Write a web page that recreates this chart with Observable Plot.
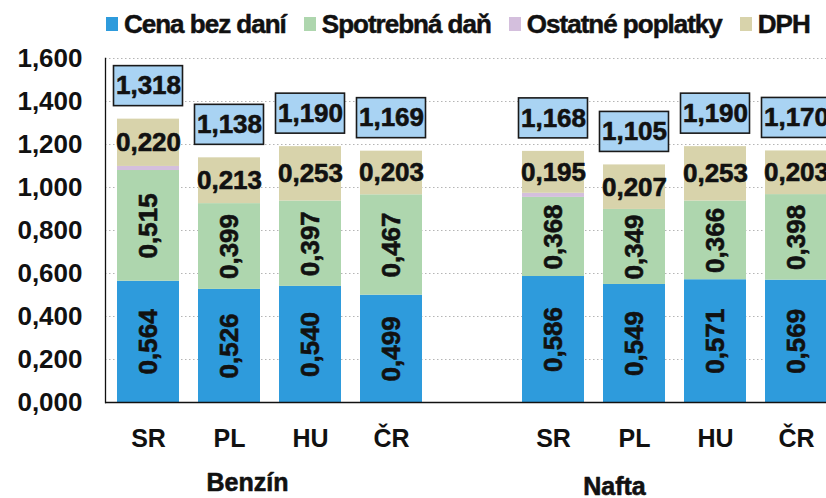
<!DOCTYPE html>
<html>
<head>
<meta charset="utf-8">
<script src="https://cdn.jsdelivr.net/npm/d3@7"></script>
<script src="https://cdn.jsdelivr.net/npm/@observablehq/plot@0.6"></script>
<style>
  html, body { margin: 0; padding: 0; background: #fff; overflow: hidden; }
  #wrap { width: 826px; height: 498px; overflow: hidden; position: relative; }
  #legend {
    height: 44px; display: flex; align-items: center; padding-left: 106px; box-sizing: border-box;
    font-family: "Liberation Sans", Arial, sans-serif;
    font-weight: bold; font-size: 26px; letter-spacing: -1px; color: #111; padding-top: 4px; white-space: nowrap;
    -webkit-text-stroke: 0.5px #111;
  }
  #legend .item { display: flex; align-items: center; margin-right: 18px; }
  #legend .sw { width: 12px; height: 14px; margin-right: 6px; display: inline-block; }
  #chart svg { display: block; overflow: visible; max-width: none !important; }
</style>
</head>
<body>
<div id="wrap">
  <div id="legend"></div>
  <div id="chart"></div>
</div>
<script>
// ---- data ----
const fuels = ["Benzín", "Nafta"];
const countries = ["SR", "PL", "HU", "ČR"];
const components = ["Cena bez daní", "Spotrebná daň", "Ostatné poplatky", "DPH"];
const colors = ["#2e9bdc", "#aed6ae", "#d4bfdd", "#d8d3ab"];

const benzinCena     = [0.564, 0.526, 0.540, 0.499];
const benzinSpotreb  = [0.515, 0.399, 0.397, 0.467];
const benzinOstatne  = [0.019, 0.000, 0.000, 0.000];
const benzinDPH      = [0.220, 0.213, 0.253, 0.203];
const benzinTotal    = [1.318, 1.138, 1.190, 1.169];

const naftaCena      = [0.586, 0.549, 0.571, 0.569];
const naftaSpotreb   = [0.368, 0.349, 0.366, 0.398];
const naftaOstatne   = [0.019, 0.000, 0.000, 0.000];
const naftaDPH       = [0.195, 0.207, 0.253, 0.203];
const naftaTotal     = [1.168, 1.105, 1.190, 1.170];

const yTicks = [0, 0.2, 0.4, 0.6, 0.8, 1.0, 1.2, 1.4, 1.6];

// ---- derived tables ----
const GAP = "gap";
const slots = [
  ...countries.map(c => fuels[0] + "|" + c),
  GAP,
  ...countries.map(c => fuels[1] + "|" + c)
];
const series = {
  "Benzín": [benzinCena, benzinSpotreb, benzinOstatne, benzinDPH, benzinTotal],
  "Nafta":  [naftaCena, naftaSpotreb, naftaOstatne, naftaDPH, naftaTotal]
};
const rows = [];
const totals = [];
for (const f of fuels) {
  countries.forEach((c, j) => {
    let acc = 0;
    components.forEach((comp, k) => {
      const v = series[f][k][j];
      rows.push({slot: f + "|" + c, component: comp, value: v, y1: acc, y2: acc + v});
      acc += v;
    });
    totals.push({slot: f + "|" + c, total: series[f][4][j]});
  });
}
const fmt = d => d3.format(".3f")(d).replace(".", ",");

// ---- legend ----
const legend = document.getElementById("legend");
components.forEach((c, i) => {
  const it = document.createElement("span");
  it.className = "item";
  const sw = document.createElement("span");
  sw.className = "sw";
  sw.style.background = colors[i];
  sw.style.webkitTextStroke = "0";
  it.appendChild(sw);
  it.appendChild(document.createTextNode(c));
  legend.appendChild(it);
});

// ---- chart ----
const font = "'Liberation Sans', Arial, sans-serif";
const heavy = {fontWeight: "bold", fontFamily: font, fill: "#111", stroke: "#111", strokeWidth: 0.6};

const chart = Plot.plot({
  width: 860,
  height: 454,
  marginLeft: 105,
  marginRight: 21,
  marginTop: 14,
  marginBottom: 96,
  x: {domain: slots, paddingInner: 0.239, paddingOuter: 0.1227, axis: null},
  y: {domain: [0, 1.6], axis: null},
  color: {domain: components, range: colors},
  style: {background: "#fff", color: "#111", overflow: "visible", maxWidth: "none"},
  marks: [
    Plot.gridY(yTicks, {stroke: "#b5b5b5", strokeOpacity: 1, strokeWidth: 1, strokeDasharray: "1.5,2.5"}),
    Plot.barY(rows, {x: "slot", y1: "y1", y2: "y2", fill: "component"}),
    Plot.frame({anchor: "left", stroke: "#111", strokeWidth: 1.3}),
    Plot.ruleY([0], {stroke: "#111", strokeWidth: 1.6}),
    Plot.axisY(yTicks, {tickSize: 0, tickPadding: 23, tickFormat: fmt, label: null, fontSize: 26, ...heavy}),
    Plot.axisX(slots.filter(s => s !== GAP), {tickSize: 0, tickPadding: 27, tickFormat: d => d.split("|")[1], label: null, fontSize: 25, ...heavy, ariaLabel: "xticks"}),
    // segment labels
    Plot.text(rows.filter(d => d.component === "DPH"), {
      x: "slot", y: d => (d.y1 + d.y2) / 2, text: d => fmt(d.value),
      fontSize: 26, ...heavy
    }),
    Plot.text(rows.filter(d => d.component === "Cena bez daní" || d.component === "Spotrebná daň"), {
      x: "slot", y: d => (d.y1 + d.y2) / 2, text: d => fmt(d.value), rotate: -90,
      fontSize: 26, ...heavy
    }),
    // total boxes
    Plot.barY(totals, {
      x: "slot", y1: "total", y2: "total",
      insetTop: -53, insetBottom: 13, insetLeft: -3.5, insetRight: -3.5,
      fill: "#a9d3f3", stroke: "#1a1a1a", strokeWidth: 1.6
    }),
    Plot.text(totals, {
      x: "slot", y: "total", dy: -33, text: d => fmt(d.total), ariaLabel: "totals",
      fontSize: 26, ...heavy
    }),
    // group labels
    Plot.text([fuels[0]], {x: [slots[1]], y: [0], text: d => d, dx: 18, dy: 80, ariaLabel: "groups",
      fontSize: 25, ...heavy}),
    Plot.text([fuels[1]], {x: [slots[6]], y: [0], text: d => d, dx: -20, dy: 84, ariaLabel: "groups",
      fontSize: 25, ...heavy})
  ]
});
d3.select(chart).selectAll('g[aria-label="totals"] text').style("letter-spacing", "-1.5px");
d3.select(chart).selectAll('g[aria-label="xticks"] text, g[aria-label="groups"] text').style("letter-spacing", "-1px");
document.getElementById("chart").appendChild(chart);
</script>
</body>
</html>
